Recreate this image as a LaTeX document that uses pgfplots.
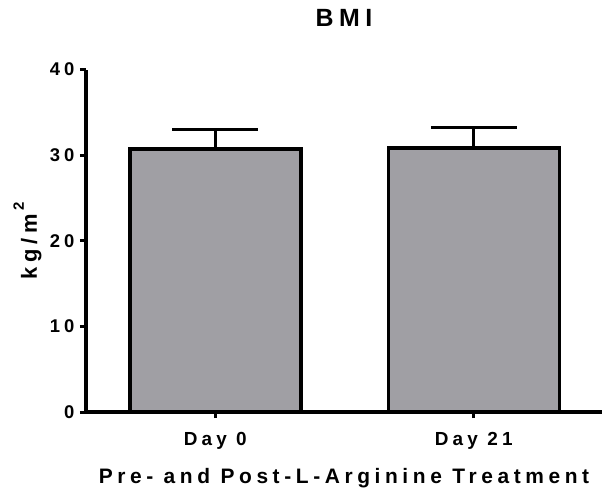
\documentclass[border=0pt]{standalone}
\usepackage{fontspec}
\usepackage{pgfplots}
\pgfplotsset{compat=1.18}
\newfontfamily\pfont{Liberation Sans}[LetterSpace=22]
\definecolor{barGray}{RGB}{160,159,164}
\begin{document}
\begin{tikzpicture}
\path[use as bounding box] (-86bp,-78bp) rectangle (516bp,412bp);
\begin{axis}[
  scale only axis,
  width=516bp, height=342.5bp,
  xmin=-0.5, xmax=1.496,
  ymin=0, ymax=40,
  axis x line*=bottom, axis y line*=left,
  axis line style={-, line width=3.5bp, black},
  xtick={0,1}, xticklabels={Day 0, Day 21},
  ytick={0,10,20,30,40},
  tick align=outside,
  major tick length=6bp,
  tick style={line width=3bp, black},
  /pgf/number format/assume math mode=true,
  yticklabel style={font=\pfont\bfseries\fontsize{18.5}{18.5}\selectfont, xshift=-2bp},
  xticklabel style={font=\pfont\bfseries\fontsize{19}{19}\selectfont, yshift=-11bp},
  title={BMI},
  title style={font=\pfont\bfseries\fontsize{25}{25}\selectfont, at={(axis description cs:0.5,1.1095)}, anchor=base},
  xlabel={Pre- and Post-L-Arginine Treatment},
  xlabel style={font=\pfont\bfseries\fontsize{21}{21}\selectfont, at={(axis description cs:0.5,-0.2073)}, anchor=base},
  ylabel={kg/m\,\raisebox{13bp}{\fontsize{15}{15}\selectfont 2}},
  ylabel style={font=\pfont\bfseries\fontsize{22}{22}\selectfont, at={(axis description cs:-0.095,0.5)}, anchor=base},
  clip=false,
]
\addplot[ybar, bar width=171bp, fill=barGray, draw=black, line width=3.5bp,
  error bars/.cd, y dir=plus, y explicit,
  error bar style={line width=3bp, black},
  error mark options={rotate=90, mark size=43bp, line width=3bp, black}]
  coordinates {(0,30.72) +- (0,2.33) (1,30.83) +- (0,2.37)};
\end{axis}
\end{tikzpicture}
\end{document}
